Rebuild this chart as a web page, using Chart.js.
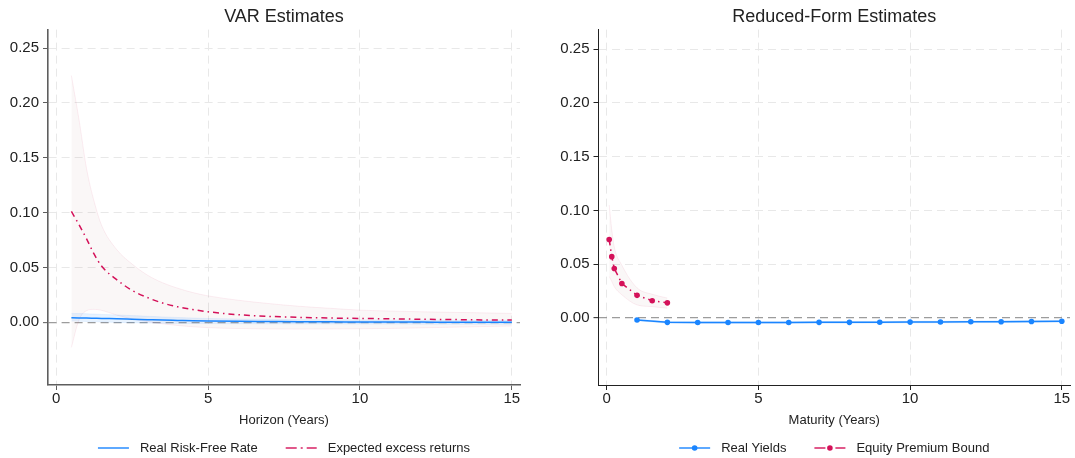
<!DOCTYPE html>
<html lang="en">
<head>
<meta charset="utf-8">
<script src="https://cdn.jsdelivr.net/npm/chart.js"></script>
<style>
  body { margin: 0; background: #fff; }
  #wrap { position: relative; width: 1075px; height: 458px; }
  #leftChart { position: absolute; left: 0; top: 0; }
  #rightChart { position: absolute; left: 540px; top: 0; }
</style>
</head>
<body>
<div id="wrap">
  <canvas id="leftChart" width="540" height="458"></canvas>
  <canvas id="rightChart" width="535" height="458"></canvas>
</div>

<script>
// ---- tick labels ----
const xTicks = [0, 5, 10, 15];
const yTicks = [0, 0.05, 0.10, 0.15, 0.20, 0.25];

// ---- VAR estimates (left) ----
const horizon = [0.5, 0.75, 1, 1.25, 1.5, 2, 2.5, 3, 3.5, 4, 4.5, 5, 6, 7, 8, 9, 10, 11, 12, 13, 14, 15];
const rfRate  = [0.0040, 0.0039, 0.0038, 0.0036, 0.0034, 0.0031, 0.0027, 0.0023, 0.0019, 0.0016, 0.0013, 0.0011, 0.0008, 0.0006, 0.0004, 0.0003, 0.0002, 0.0001, 0.0001, 0.0000, 0.0000, 0.0000];
const rfUpper = [0.0080, 0.0079, 0.0077, 0.0074, 0.0071, 0.0066, 0.0060, 0.0054, 0.0048, 0.0043, 0.0038, 0.0034, 0.0029, 0.0026, 0.0023, 0.0022, 0.0021, 0.0020, 0.0019, 0.0018, 0.0017, 0.0017];
const rfLower = [0.0010, 0.0008, 0.0006, 0.0004, 0.0002, -0.0002, -0.0005, -0.0008, -0.0010, -0.0011, -0.0012, -0.0013, -0.0014, -0.0015, -0.0016, -0.0016, -0.0017, -0.0017, -0.0018, -0.0018, -0.0018, -0.0018];
const exRet   = [0.101, 0.089, 0.076, 0.062, 0.051, 0.0386, 0.029, 0.0225, 0.0175, 0.014, 0.0115, 0.0095, 0.0068, 0.0053, 0.0044, 0.0038, 0.0034, 0.0031, 0.0027, 0.0024, 0.0021, 0.0019];
const exUpper = [0.225, 0.185, 0.140, 0.110, 0.088, 0.066, 0.053, 0.043, 0.036, 0.031, 0.027, 0.024, 0.020, 0.017, 0.0145, 0.0127, 0.011, 0.0102, 0.0095, 0.009, 0.0085, 0.008];
const exLower = [-0.023, 0.002, 0.0105, 0.0117, 0.0108, 0.0064, 0.003, 0.0005, -0.0015, -0.003, -0.0042, -0.005, -0.0058, -0.0062, -0.0063, -0.0062, -0.006, -0.0057, -0.0052, -0.0046, -0.004, -0.0035];

// ---- Reduced-form estimates (right) ----
const maturityEq = [0.083, 0.167, 0.25, 0.5, 1, 1.5, 2];
const eqBound    = [0.073, 0.057, 0.046, 0.032, 0.021, 0.016, 0.014];
const eqUpper    = [0.105, 0.082, 0.066, 0.049, 0.028, 0.022, 0.0185];
const eqLower    = [0.0385, 0.034, 0.029, 0.0215, 0.0121, 0.0105, 0.009];
const maturityRY = [1, 2, 3, 4, 5, 6, 7, 8, 9, 10, 11, 12, 13, 14, 15];
const realYields = [-0.0019, -0.0041, -0.0042, -0.0042, -0.0042, -0.0042, -0.0041, -0.0041, -0.0040, -0.0039, -0.0038, -0.0036, -0.0035, -0.0033, -0.0031];
const ryUpper    = [-0.0013, -0.0034, -0.0035, -0.0035, -0.0035, -0.0035, -0.0034, -0.0034, -0.0033, -0.0032, -0.0031, -0.0029, -0.0027, -0.0025, -0.0023];
const ryLower    = [-0.0026, -0.0049, -0.0050, -0.0050, -0.0050, -0.0050, -0.0049, -0.0049, -0.0048, -0.0047, -0.0046, -0.0044, -0.0043, -0.0041, -0.0039];

const BLUE = '#1a85ff';
const RED = '#d41159';
const FONT = "'Liberation Sans', Arial, sans-serif";
const dashDot = [6, 4, 1.5, 4];

Chart.defaults.font.family = FONT;
Chart.defaults.color = '#222';

function pts(xs, ys) {
    return xs.map((x, i) => ({ x: x, y: ys[i] }));
}

// legend drawn below the plot, centred on the plot area
const legendKeys = {
    id: 'legendKeys',
    afterDraw(chart, args, opts) {
        const { ctx, chartArea } = chart;
        const items = opts.items || [];
        ctx.save();
        ctx.font = '13px ' + FONT;
        const sw = 31, gap = 11, spacing = 28;
        const widths = items.map(it => ctx.measureText(it.label).width);
        let total = spacing * (items.length - 1);
        widths.forEach(w => { total += sw + gap + w; });
        let x = (chartArea.left + chartArea.right) / 2 - total / 2;
        const y = chart.height - 10;
        items.forEach((it, i) => {
            ctx.strokeStyle = it.color;
            ctx.lineWidth = 2;
            ctx.setLineDash(it.dash || []);
            ctx.beginPath();
            ctx.moveTo(x, y);
            ctx.lineTo(x + sw, y);
            ctx.stroke();
            ctx.setLineDash([]);
            if (it.marker) {
                ctx.fillStyle = it.marker;
                ctx.beginPath();
                ctx.arc(x + sw / 2, y, 2.8, 0, Math.PI * 2);
                ctx.fill();
            }
            ctx.fillStyle = '#222';
            ctx.textBaseline = 'middle';
            ctx.textAlign = 'left';
            ctx.fillText(it.label, x + sw + gap, y);
            x += sw + gap + widths[i] + spacing;
        });
        ctx.restore();
    }
};

function makePanel(canvasId, cfg) {
    const axisColor = cfg.axisColor;
    const gridColor = c => (c.tick && c.tick.value === 0 ? '#9c9c9c' : '#e8e8e8');
    return new Chart(document.getElementById(canvasId), {
        type: 'line',
        data: { datasets: cfg.datasets },
        plugins: [legendKeys],
        options: {
            responsive: false,
            animation: false,
            devicePixelRatio: 1,
            layout: { padding: { left: 0, right: cfg.padRight, top: 0, bottom: 26 } },
            plugins: {
                legend: { display: false },
                tooltip: { enabled: false },
                title: {
                    display: true,
                    text: cfg.title,
                    fullSize: false,
                    color: '#222',
                    font: { size: 18, weight: 'normal' },
                    padding: { top: 6, bottom: 2 }
                },
                legendKeys: { items: cfg.legend }
            },
            scales: {
                x: {
                    type: 'linear',
                    min: cfg.xMin,
                    max: cfg.xMax,
                    afterBuildTicks: s => { s.ticks = xTicks.map(v => ({ value: v })); },
                    afterFit: s => { s.height = 47; },
                    ticks: { font: { size: 15 }, color: '#222', padding: 0, maxRotation: 0, callback: v => v },
                    grid: { color: '#e8e8e8', lineWidth: 1, tickLength: 5, tickColor: axisColor, tickWidth: 1 },
                    border: { display: true, color: axisColor, width: cfg.axisWidth, dash: [8, 5] },
                    title: { display: true, text: cfg.xTitle, color: '#222', font: { size: 13 }, padding: { top: 4, bottom: 4 } }
                },
                y: {
                    min: cfg.yMin,
                    max: cfg.yMax,
                    afterBuildTicks: s => { s.ticks = yTicks.map(v => ({ value: v })); },
                    afterFit: s => { s.width = cfg.yWidth; },
                    ticks: { font: { size: 15 }, color: '#222', padding: 4, callback: v => v.toFixed(2) },
                    grid: { color: gridColor, lineWidth: c => (c.tick && c.tick.value === 0 ? 1.3 : 1), tickLength: 5, tickColor: axisColor, tickWidth: 1 },
                    border: { display: true, color: axisColor, width: cfg.axisWidth, dash: [8, 5] }
                }
            }
        }
    });
}

const bandEdge = { pointRadius: 0, borderWidth: 1, fill: false, order: 10 };

makePanel('leftChart', {
    title: 'VAR Estimates',
    xTitle: 'Horizon (Years)',
    xMin: -0.27, xMax: 15.27,
    yMin: -0.0573, yMax: 0.2669,
    yWidth: 48, padRight: 20,
    axisColor: '#5e5e5e', axisWidth: 1.6,
    legend: [
        { label: 'Real Risk-Free Rate', color: 'rgba(26,133,255,0.7)' },
        { label: 'Expected excess returns', color: 'rgba(212,17,89,0.7)', dash: [11, 4, 2, 4] }
    ],
    datasets: [
        Object.assign({ data: pts(horizon, exUpper), borderColor: 'rgba(212,17,89,0.07)', cubicInterpolationMode: 'monotone' }, bandEdge),
        Object.assign({}, bandEdge, { data: pts(horizon, exLower), borderColor: 'rgba(212,17,89,0.07)', backgroundColor: 'rgba(185,150,155,0.08)', fill: '-1', cubicInterpolationMode: 'monotone' }),
        Object.assign({ data: pts(horizon, rfUpper), borderColor: 'rgba(26,133,255,0.08)', cubicInterpolationMode: 'monotone' }, bandEdge, { order: 9 }),
        Object.assign({}, bandEdge, { data: pts(horizon, rfLower), borderColor: 'rgba(26,133,255,0.08)', backgroundColor: 'rgba(26,133,255,0.1)', fill: '-1', order: 9, cubicInterpolationMode: 'monotone' }),
        { data: pts(horizon, rfRate), borderColor: BLUE, borderWidth: 1.5, pointRadius: 0, fill: false, order: 2, cubicInterpolationMode: 'monotone' },
        { data: pts(horizon, exRet), borderColor: RED, borderWidth: 1.5, borderDash: dashDot, pointRadius: 0, fill: false, order: 1, cubicInterpolationMode: 'monotone' }
    ]
});

makePanel('rightChart', {
    title: 'Reduced-Form Estimates',
    xTitle: 'Maturity (Years)',
    xMin: -0.27, xMax: 15.27,
    yMin: -0.0624, yMax: 0.2682,
    yWidth: 58.5, padRight: 5,
    axisColor: '#222', axisWidth: 1,
    legend: [
        { label: 'Real Yields', color: 'rgba(26,133,255,0.7)', marker: BLUE },
        { label: 'Equity Premium Bound', color: 'rgba(212,17,89,0.7)', dash: [11, 4, 2, 4], marker: RED }
    ],
    datasets: [
        Object.assign({ data: pts(maturityEq, eqUpper), borderColor: 'rgba(212,17,89,0.07)', cubicInterpolationMode: 'monotone' }, bandEdge),
        Object.assign({}, bandEdge, { data: pts(maturityEq, eqLower), borderColor: 'rgba(212,17,89,0.07)', backgroundColor: 'rgba(185,150,155,0.08)', fill: '-1', cubicInterpolationMode: 'monotone' }),
        Object.assign({ data: pts(maturityRY, ryUpper), borderColor: 'rgba(26,133,255,0.1)' }, bandEdge, { order: 9 }),
        Object.assign({}, bandEdge, { data: pts(maturityRY, ryLower), borderColor: 'rgba(26,133,255,0.1)', backgroundColor: 'rgba(26,133,255,0.14)', fill: '-1', order: 9 }),
        { data: pts(maturityRY, realYields), borderColor: BLUE, borderWidth: 1.5, pointRadius: 2.8, pointBackgroundColor: BLUE, pointBorderWidth: 0, fill: false, order: 2 },
        { data: pts(maturityEq, eqBound), borderColor: RED, borderWidth: 1.5, borderDash: dashDot, pointRadius: 2.8, pointBackgroundColor: RED, pointBorderWidth: 0, fill: false, order: 1 }
    ]
});
</script>
</body>
</html>
